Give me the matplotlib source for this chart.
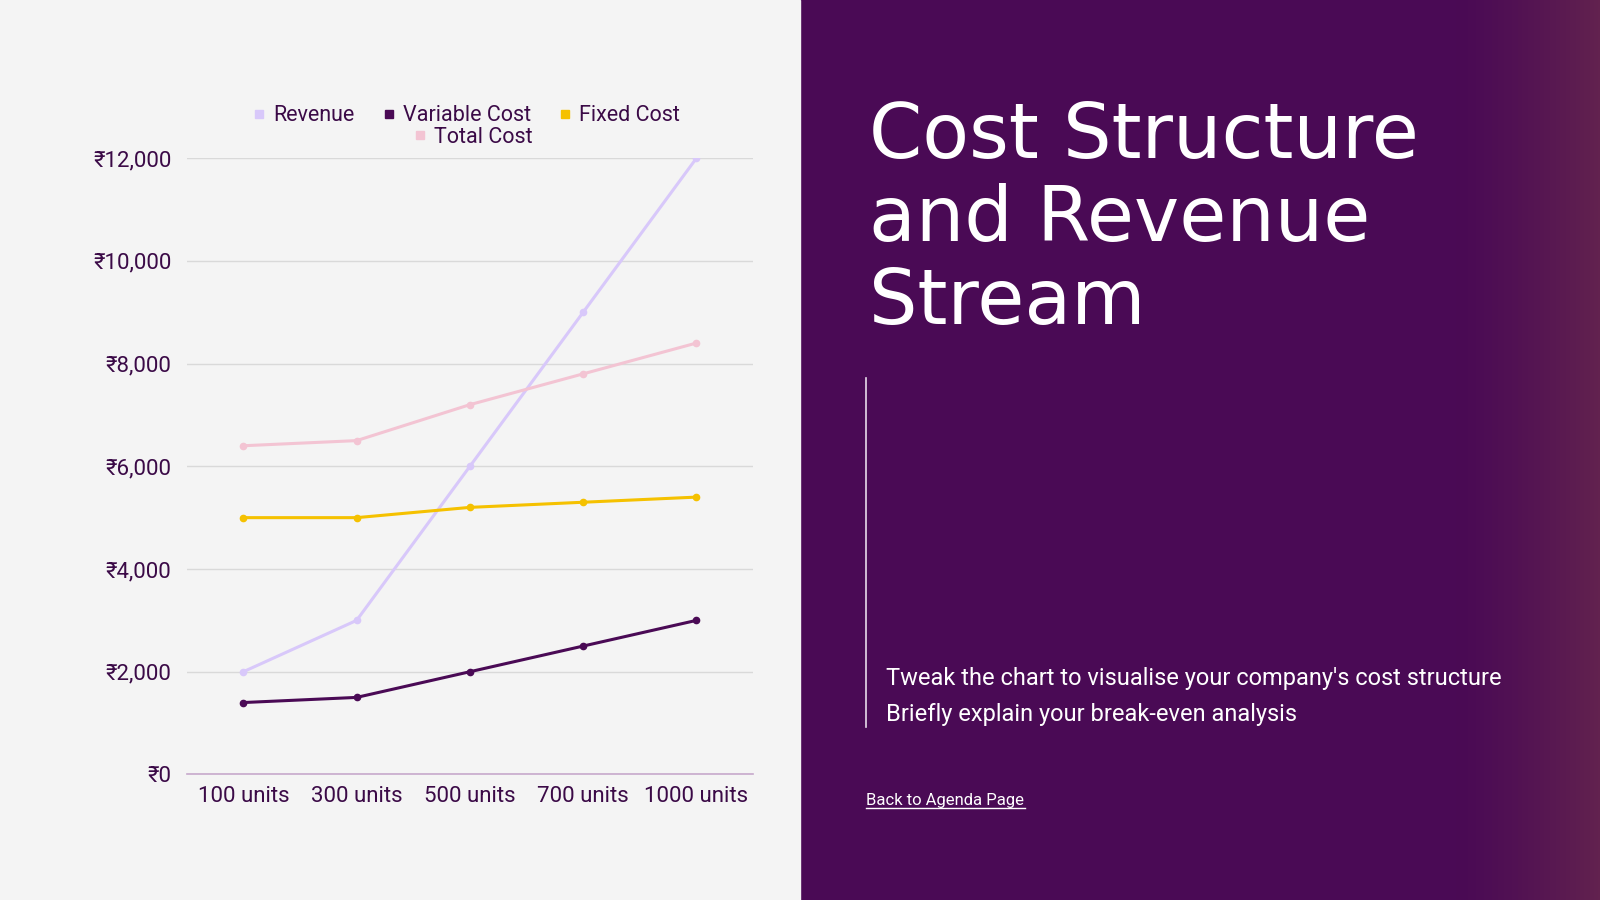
import numpy as np
import matplotlib.pyplot as plt
from matplotlib.lines import Line2D

# chart data
units = ["100 units", "300 units", "500 units", "700 units", "1000 units"]
revenue = [2000, 3000, 6000, 9000, 12000]
variable_cost = [1400, 1500, 2000, 2500, 3000]
fixed_cost = [5000, 5000, 5200, 5300, 5400]
total_cost = [6400, 6500, 7200, 7800, 8400]
yticks = [0, 2000, 4000, 6000, 8000, 10000, 12000]

purple = "#4a0a55"
text_col = "#3b0a47"
colors = {"Revenue": "#d8c8fa", "Variable Cost": "#4a0a55",
          "Fixed Cost": "#f5c100", "Total Cost": "#f3c4d3"}

plt.rcParams["font.family"] = ["Roboto", "DejaVu Sans"]

fig = plt.figure(figsize=(16, 9), dpi=100)

# background: light left half, purple right half with a gradient at the edge
bg = fig.add_axes([0, 0, 1, 1], zorder=-10)
bg.set_xlim(0, 1)
bg.set_ylim(0, 1)
bg.axis("off")
bg.add_patch(plt.Rectangle((0, 0), 0.5, 1, color="#f4f4f4"))
c0 = np.array([0x4a, 0x0a, 0x55]) / 255
c1 = np.array([0x62, 0x22, 0x4f]) / 255
xs = np.linspace(0, 1, 400)
t = np.clip((xs - 0.82) / 0.18, 0, 1) ** 1.3
grad = c0[None, :] * (1 - t[:, None]) + c1[None, :] * t[:, None]
bg.imshow(grad[None, :, :], extent=[0.5, 1, 0, 1], aspect="auto")
bg.set_xlim(0, 1)
bg.set_ylim(0, 1)

# main line chart
ax = fig.add_axes([0.1167, 0.1395, 0.354, 0.6848])
ax.set_facecolor("none")
x = np.arange(len(units))
for name, vals in [("Revenue", revenue), ("Variable Cost", variable_cost),
                   ("Fixed Cost", fixed_cost), ("Total Cost", total_cost)]:
    ax.plot(x, vals, color=colors[name], lw=2.2, marker="o", ms=4.5,
            solid_capstyle="round", zorder=3)

ax.set_xlim(-0.5, len(units) - 0.5)
ax.set_ylim(0, 12000)
ax.set_yticks(yticks)
ax.set_yticklabels(["₹{:,}".format(v) for v in yticks])
ax.set_xticks(x)
ax.set_xticklabels(units)
ax.tick_params(length=0, labelsize=16, colors=text_col, pad=11)
ax.tick_params(axis="x", pad=8)
ax.grid(axis="y", color="#d9d9d9", lw=1)
for s in ["top", "right", "left"]:
    ax.spines[s].set_visible(False)
ax.spines["bottom"].set_color("#c7a9cc")
ax.spines["bottom"].set_linewidth(1.2)
ax.set_axisbelow(True)

def handle(name):
    return Line2D([], [], ls="none", marker="s", ms=6, color=colors[name])

leg1 = ax.legend([handle(n) for n in ["Revenue", "Variable Cost", "Fixed Cost"]],
                 ["Revenue", "Variable Cost", "Fixed Cost"], ncol=3,
                 loc="center", bbox_to_anchor=(0.494, 1.069), frameon=False,
                 fontsize=15.5, handlelength=0.6, handletextpad=0.35,
                 columnspacing=1.3, labelcolor=text_col, borderpad=0)
ax.add_artist(leg1)
ax.legend([handle("Total Cost")], ["Total Cost"], loc="center",
          bbox_to_anchor=(0.505, 1.034), frameon=False, fontsize=15.5,
          handlelength=0.6, handletextpad=0.35, labelcolor=text_col, borderpad=0)

# right panel text
fig.text(0.543, 0.889, "Cost Structure\nand Revenue\nStream", color="white",
         fontsize=55, family=["DejaVu Sans"], va="top", ha="left",
         linespacing=1.155)
bg.plot([0.5415, 0.5415], [1 - 370 / 882, 1 - 712 / 882], color="#e8dcea", lw=1.2)
fig.text(0.5536, 1 - 665 / 882, "Tweak the chart to visualise your company's cost structure",
         color="white", fontsize=17, va="center", ha="left")
fig.text(0.5536, 1 - 700 / 882, "Briefly explain your break-even analysis",
         color="white", fontsize=17, va="center", ha="left")
fig.text(0.5415, 1 - 784 / 882, "Back to Agenda Page", color="white",
         fontsize=12, va="center", ha="left")
bg.plot([0.5415, 0.6405], [1 - 792 / 882, 1 - 792 / 882], color="white", lw=1)

fig.savefig("out.png", dpi=100)
